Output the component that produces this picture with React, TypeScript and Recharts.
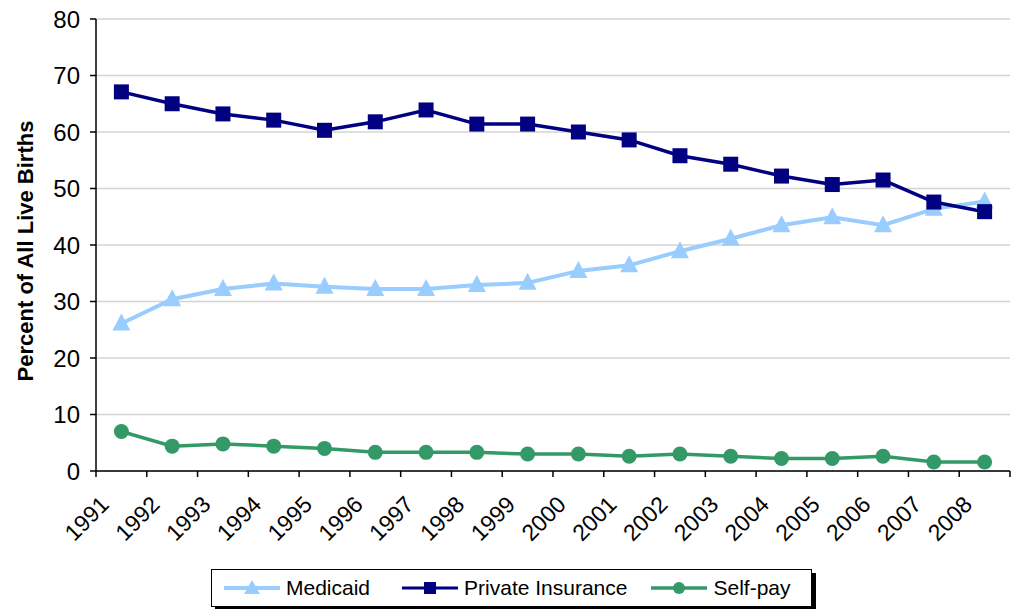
import { LineChart, Line, XAxis, YAxis, CartesianGrid, Legend } from "recharts";

const YEARS = [
  "1991", "1992", "1993", "1994", "1995", "1996", "1997", "1998", "1999",
  "2000", "2001", "2002", "2003", "2004", "2005", "2006", "2007", "2008",
];
const MEDICAID = [
  26.1, 30.4, 32.2, 33.2, 32.6, 32.2, 32.2, 32.9, 33.3,
  35.4, 36.4, 38.9, 41.1, 43.5, 44.9, 43.5, 46.4, 47.7,
];
const PRIVATE_INSURANCE = [
  67.1, 65.0, 63.2, 62.1, 60.3, 61.8, 63.9, 61.4, 61.4,
  60.0, 58.6, 55.8, 54.3, 52.2, 50.7, 51.5, 47.6, 45.9,
];
const SELF_PAY = [
  7.0, 4.4, 4.8, 4.4, 4.0, 3.3, 3.3, 3.3, 3.0,
  3.0, 2.6, 3.0, 2.6, 2.2, 2.2, 2.6, 1.6, 1.6,
];
const Y_TICKS = [0, 10, 20, 30, 40, 50, 60, 70, 80];

const COLORS = {
  medicaid: "#99ccff",
  private: "#000080",
  selfPay: "#339966",
};

const FONT = "'Liberation Sans', Arial, sans-serif";
const WIDTH = 1018;
const HEIGHT = 609;
const PLOT_LEFT = 96;
const PLOT_RIGHT = 1010;
const STEP = (PLOT_RIGHT - PLOT_LEFT) / YEARS.length;

const data = YEARS.map((year, i) => ({
  year,
  medicaid: MEDICAID[i],
  private: PRIVATE_INSURANCE[i],
  selfPay: SELF_PAY[i],
}));

function Square(props: any) {
  const { cx, cy } = props;
  if (cx == null || cy == null) return null;
  return <rect x={cx - 7.5} y={cy - 7.5} width={15} height={15} fill={COLORS.private} />;
}

function Triangle(props: any) {
  const { cx, cy } = props;
  if (cx == null || cy == null) return null;
  return (
    <polygon
      points={`${cx},${cy - 10} ${cx - 9},${cy + 7} ${cx + 9},${cy + 7}`}
      fill={COLORS.medicaid}
    />
  );
}

function Circle(props: any) {
  const { cx, cy } = props;
  if (cx == null || cy == null) return null;
  return <circle cx={cx} cy={cy} r={7.5} fill={COLORS.selfPay} />;
}

function XTick(props: any) {
  const { x, y, payload, index } = props;
  const tx = x - 11;
  const ty = y + 35;
  return (
    <g>
      <line x1={x - STEP / 2} x2={x - STEP / 2} y1={y} y2={y + 6} stroke="#000" strokeWidth={1.5} />
      {index === YEARS.length - 1 && (
        <line x1={x + STEP / 2} x2={x + STEP / 2} y1={y} y2={y + 6} stroke="#000" strokeWidth={1.5} />
      )}
      <text
        x={tx}
        y={ty}
        textAnchor="end"
        transform={`rotate(-45, ${tx}, ${ty})`}
        fontSize={23}
        fontFamily={FONT}
        fill="#000"
      >
        {payload.value}
      </text>
    </g>
  );
}

function YTitle(props: any) {
  const vb = props.viewBox || { y: 19, height: 452 };
  const cy = vb.y + vb.height / 2 + 6;
  return (
    <text
      x={33}
      y={cy}
      transform={`rotate(-90, 33, ${cy})`}
      textAnchor="middle"
      fontSize={22}
      fontWeight="bold"
      fontFamily={FONT}
      fill="#000"
    >
      Percent of All Live Births
    </text>
  );
}

const LEGEND_ITEMS = [
  { key: "medicaid", label: "Medicaid", color: COLORS.medicaid, width: 4, gap: 32 },
  { key: "private", label: "Private Insurance", color: COLORS.private, width: 3, gap: 24 },
  { key: "selfPay", label: "Self-pay", color: COLORS.selfPay, width: 3.5, gap: 0 },
];

function LegendIcon({ k, color, width }: { k: string; color: string; width: number }) {
  return (
    <svg width={56} height={20} style={{ display: "block" }}>
      <line x1={0} x2={56} y1={10} y2={10} stroke={color} strokeWidth={width} />
      {k === "medicaid" && <polygon points="28,2 20,16 36,16" fill={color} />}
      {k === "private" && <rect x={22} y={4} width={12} height={12} fill={color} />}
      {k === "selfPay" && <circle cx={28} cy={10} r={6} fill={color} />}
    </svg>
  );
}

function LegendBox() {
  return (
    <div
      style={{
        boxSizing: "border-box",
        width: 601,
        height: 38,
        border: "1px solid #000",
        boxShadow: "4px 4px 0 #000",
        background: "#fff",
        display: "flex",
        alignItems: "center",
        paddingLeft: 12,
        fontFamily: FONT,
        fontSize: 21,
        color: "#000",
      }}
    >
      {LEGEND_ITEMS.map((it) => (
        <div key={it.key} style={{ display: "flex", alignItems: "center", marginRight: it.gap }}>
          <LegendIcon k={it.key} color={it.color} width={it.width} />
          <span style={{ marginLeft: 6, whiteSpace: "nowrap" }}>{it.label}</span>
        </div>
      ))}
    </div>
  );
}

export default function App() {
  return (
    <div style={{ position: "absolute", left: 0, top: 0, width: WIDTH, height: HEIGHT, background: "#fff" }}>
      <LineChart
        width={WIDTH}
        height={HEIGHT}
        data={data}
        margin={{ top: 19, right: WIDTH - PLOT_RIGHT, bottom: 78, left: 0 }}
      >
        <CartesianGrid horizontal vertical={false} stroke="#d4d4d4" strokeWidth={1.5} />
        <XAxis
          dataKey="year"
          interval={0}
          padding={{ left: STEP / 2, right: STEP / 2 }}
          height={60}
          tickSize={0}
          tickMargin={0}
          tickLine={false}
          axisLine={{ stroke: "#000", strokeWidth: 1.5 }}
          tick={<XTick />}
        />
        <XAxis
          xAxisId="top"
          dataKey="year"
          orientation="top"
          height={0}
          tick={false}
          tickLine={false}
          axisLine={{ stroke: "#808080", strokeWidth: 1.5 }}
        />
        <YAxis
          domain={[0, 80]}
          ticks={Y_TICKS}
          interval={0}
          width={PLOT_LEFT}
          tickSize={6}
          tickMargin={10}
          tickLine={{ stroke: "#000", strokeWidth: 1.5 }}
          axisLine={{ stroke: "#000", strokeWidth: 1.5 }}
          tick={{ fill: "#000", fontSize: 24, fontFamily: FONT }}
          label={YTitle}
        />
        <YAxis
          yAxisId="right"
          orientation="right"
          domain={[0, 80]}
          width={0}
          tick={false}
          tickLine={false}
          axisLine={{ stroke: "#808080", strokeWidth: 1.5 }}
        />
        <Legend
          layout="horizontal"
          verticalAlign="middle"
          align="center"
          wrapperStyle={{ position: "absolute", left: 211, top: 569, width: 601, height: 38 }}
          content={() => <LegendBox />}
        />
        <Line
          dataKey="medicaid"
          name="Medicaid"
          stroke={COLORS.medicaid}
          strokeWidth={4}
          dot={<Triangle />}
          activeDot={false}
          isAnimationActive={false}
        />
        <Line
          dataKey="private"
          name="Private Insurance"
          stroke={COLORS.private}
          strokeWidth={3.5}
          dot={<Square />}
          activeDot={false}
          isAnimationActive={false}
        />
        <Line
          dataKey="selfPay"
          name="Self-pay"
          stroke={COLORS.selfPay}
          strokeWidth={3.5}
          dot={<Circle />}
          activeDot={false}
          isAnimationActive={false}
        />
      </LineChart>
    </div>
  );
}
